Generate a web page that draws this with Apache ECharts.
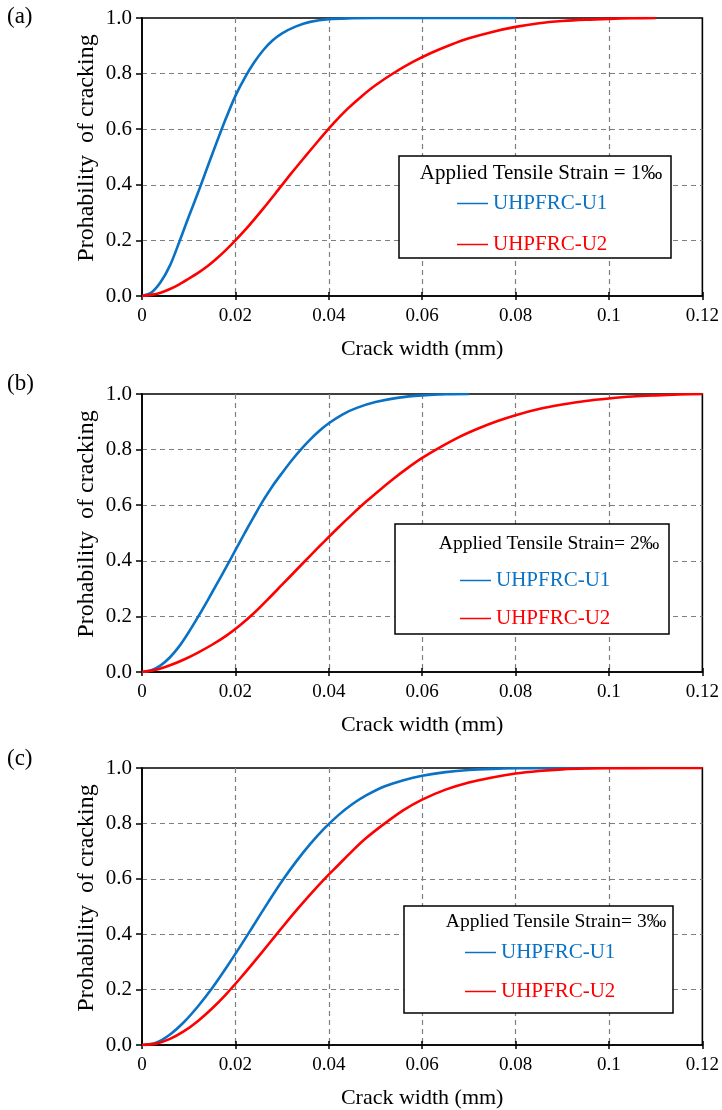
<!DOCTYPE html>
<html>
<head>
<meta charset="utf-8">
<script src="https://cdn.jsdelivr.net/npm/echarts@6/dist/echarts.min.js"></script>
<style>
  html, body { margin: 0; padding: 0; background: #ffffff; }
  #chart { width: 722px; height: 1110px; }
</style>
</head>
<body>
<div id="chart"></div>
<script>
// ---- Crack width (mm) and probability of cracking, strain = 1 permille ----
const widthA_U1 = [0, 0.002, 0.004, 0.006, 0.008, 0.010, 0.012, 0.014, 0.016, 0.018, 0.020, 0.022, 0.024, 0.026, 0.028, 0.030, 0.033, 0.036, 0.040, 0.045, 0.050, 0.060, 0.070, 0.080];
const probA_U1  = [0, 0.012, 0.05, 0.11, 0.195, 0.285, 0.372, 0.463, 0.553, 0.640, 0.720, 0.785, 0.840, 0.885, 0.920, 0.945, 0.970, 0.986, 0.996, 0.999, 1.0, 1.0, 1.0, 1.0];
const widthA_U2 = [0, 0.002, 0.004, 0.006, 0.008, 0.010, 0.012, 0.014, 0.016, 0.018, 0.020, 0.023, 0.026, 0.029, 0.032, 0.035, 0.038, 0.041, 0.044, 0.047, 0.050, 0.054, 0.058, 0.062, 0.066, 0.070, 0.075, 0.080, 0.085, 0.090, 0.095, 0.100, 0.105, 0.110];
const probA_U2  = [0, 0.004, 0.012, 0.025, 0.042, 0.062, 0.083, 0.107, 0.135, 0.166, 0.200, 0.255, 0.315, 0.378, 0.442, 0.503, 0.563, 0.621, 0.673, 0.718, 0.758, 0.803, 0.842, 0.875, 0.903, 0.927, 0.950, 0.968, 0.981, 0.989, 0.994, 0.997, 0.999, 1.0];

// ---- strain = 2 permille ----
const widthB_U1 = [0, 0.002, 0.004, 0.006, 0.008, 0.010, 0.012, 0.014, 0.016, 0.018, 0.020, 0.022, 0.024, 0.026, 0.028, 0.030, 0.032, 0.034, 0.036, 0.038, 0.040, 0.043, 0.046, 0.050, 0.055, 0.060, 0.065, 0.070];
const probB_U1  = [0, 0.006, 0.024, 0.053, 0.093, 0.143, 0.198, 0.256, 0.316, 0.376, 0.438, 0.500, 0.560, 0.618, 0.670, 0.716, 0.760, 0.800, 0.836, 0.868, 0.895, 0.927, 0.950, 0.971, 0.987, 0.995, 0.999, 1.0];
const widthB_U2 = [0, 0.003, 0.006, 0.009, 0.012, 0.015, 0.018, 0.021, 0.024, 0.027, 0.030, 0.033, 0.036, 0.039, 0.042, 0.045, 0.048, 0.051, 0.054, 0.057, 0.060, 0.064, 0.068, 0.072, 0.076, 0.080, 0.085, 0.090, 0.095, 0.100, 0.105, 0.110, 0.115, 0.120];
const probB_U2  = [0, 0.008, 0.024, 0.045, 0.070, 0.098, 0.130, 0.168, 0.212, 0.262, 0.314, 0.366, 0.418, 0.469, 0.519, 0.567, 0.613, 0.656, 0.697, 0.735, 0.770, 0.810, 0.846, 0.876, 0.902, 0.924, 0.946, 0.962, 0.975, 0.984, 0.991, 0.995, 0.998, 1.0];

// ---- strain = 3 permille ----
const widthC_U1 = [0, 0.003, 0.006, 0.009, 0.012, 0.015, 0.018, 0.021, 0.024, 0.027, 0.030, 0.033, 0.036, 0.039, 0.042, 0.045, 0.048, 0.052, 0.056, 0.060, 0.065, 0.070, 0.075, 0.080, 0.088, 0.096];
const probC_U1  = [0, 0.008, 0.038, 0.083, 0.140, 0.205, 0.278, 0.355, 0.435, 0.515, 0.592, 0.662, 0.725, 0.781, 0.829, 0.869, 0.901, 0.934, 0.956, 0.972, 0.985, 0.993, 0.997, 0.999, 1.0, 1.0];
const widthC_U2 = [0, 0.003, 0.006, 0.009, 0.012, 0.015, 0.018, 0.021, 0.024, 0.027, 0.030, 0.033, 0.036, 0.039, 0.042, 0.045, 0.048, 0.052, 0.056, 0.060, 0.065, 0.070, 0.075, 0.080, 0.085, 0.090, 0.095, 0.100, 0.110, 0.120];
const probC_U2  = [0, 0.005, 0.022, 0.050, 0.087, 0.132, 0.183, 0.240, 0.300, 0.362, 0.424, 0.485, 0.543, 0.598, 0.649, 0.700, 0.747, 0.800, 0.848, 0.886, 0.922, 0.948, 0.966, 0.980, 0.989, 0.995, 0.998, 0.999, 1.0, 1.0];

// ---- labels ----
const panelLabels  = ['(a)', '(b)', '(c)'];
const strainTitles = ['Applied Tensile Strain = 1\u2030', 'Applied Tensile Strain= 2\u2030', 'Applied Tensile Strain= 3\u2030'];
const seriesNames  = ['UHPFRC-U1', 'UHPFRC-U2'];
const xAxisTitle   = 'Crack width (mm)';
const yAxisTitle   = 'Prohability  of cracking';

const BLUE = '#0a72c4';
const RED = '#ff0000';
const FONT = "'Liberation Serif', 'Times New Roman', serif";

const zip = (xs, ys) => xs.map((x, i) => [x, ys[i]]);

const panels = [
  { top: 18,  label: { x: 7, y: 17 },  box: { x: 399, y: 156, w: 272, h: 102 }, title: { x: 541, y: 173, size: 21 }, legend: { x: 457, y: 203, gap: 40 },
    u1: zip(widthA_U1, probA_U1), u2: zip(widthA_U2, probA_U2) },
  { top: 394, label: { x: 7, y: 384 }, box: { x: 395, y: 524, w: 274, h: 110 }, title: { x: 549, y: 544, size: 19.5 }, legend: { x: 460, y: 580, gap: 37 },
    u1: zip(widthB_U1, probB_U1), u2: zip(widthB_U2, probB_U2) },
  { top: 768, label: { x: 7, y: 759 }, box: { x: 404, y: 906, w: 269, h: 107 }, title: { x: 556, y: 922, size: 19.5 }, legend: { x: 465, y: 952, gap: 38 },
    u1: zip(widthC_U1, probC_U1), u2: zip(widthC_U2, probC_U2) }
];

const grid = [], xAxis = [], yAxis = [], series = [], legend = [], graphic = [];
const GRID_LEFT = 142, GRID_W = 561, GRID_H = 278;
const dash = { color: '#7f7f7f', width: 1.2, type: [5, 4] };

panels.forEach((p, i) => {
  grid.push({ left: GRID_LEFT, top: p.top, width: GRID_W, height: GRID_H,
    show: true, borderColor: '#000', borderWidth: 1.6, backgroundColor: 'transparent' });

  // main x axis: labels, downward ticks, dashed vertical grid
  xAxis.push({
    type: 'value', gridIndex: i, position: 'bottom', min: 0, max: 0.12, interval: 0.02,
    axisLine: { show: true, onZero: false, lineStyle: { color: '#000', width: 1.6 } },
    axisTick: { show: true, inside: false, length: 4, lineStyle: { color: '#000', width: 1.5 } },
    axisLabel: { show: true, margin: 11, color: '#000', fontFamily: FONT, fontSize: 19 },
    splitLine: { show: true, showMinLine: false, showMaxLine: false, lineStyle: dash },
    name: xAxisTitle, nameLocation: 'middle', nameGap: 42,
    nameTextStyle: { color: '#000', fontFamily: FONT, fontSize: 22 }
  });
  // companion axis carrying the upward half of the crossing ticks
  xAxis.push({
    type: 'value', gridIndex: i, position: 'bottom', min: 0, max: 0.12, interval: 0.02,
    axisLine: { show: false },
    axisTick: { show: true, inside: true, length: 4, lineStyle: { color: '#000', width: 1.5 } },
    axisLabel: { show: false }, splitLine: { show: false }
  });

  yAxis.push({
    type: 'value', gridIndex: i, min: 0, max: 1, interval: 0.2,
    axisLine: { show: true, onZero: false, lineStyle: { color: '#000', width: 1.6 } },
    axisTick: { show: true, inside: false, length: 6, lineStyle: { color: '#000', width: 1.5 } },
    axisLabel: { margin: 10, color: '#000', fontFamily: FONT, fontSize: 21, formatter: v => v.toFixed(1) },
    splitLine: { show: true, showMinLine: false, showMaxLine: false, lineStyle: dash }
  });

  [[p.u1, BLUE, 0], [p.u2, RED, 1]].forEach(([data, color, k]) => {
    series.push({
      type: 'line', name: seriesNames[k], xAxisIndex: i * 2, yAxisIndex: i,
      data, showSymbol: false, symbol: 'none', smooth: 0.3,
      lineStyle: { color, width: 2.6 }, itemStyle: { color }, z: 3, animation: false
    });
  });

  legend.push({
    orient: 'vertical', left: p.legend.x, top: p.legend.y - 10, padding: 0,
    icon: 'rect', itemWidth: 31, itemHeight: 1.5, itemGap: p.legend.gap - 20, z: 20,
    selectedMode: false,
    textStyle: { fontFamily: FONT, fontSize: 21, lineHeight: 20 },
    data: [
      { name: seriesNames[0], itemStyle: { color: BLUE }, textStyle: { color: BLUE } },
      { name: seriesNames[1], itemStyle: { color: RED }, textStyle: { color: RED } }
    ]
  });

  // y-axis title, rotated to read bottom-to-top
  graphic.push({
    type: 'text', x: 87, y: p.top + 130, rotation: Math.PI / 2, z: 11,
    style: { text: yAxisTitle, align: 'center', verticalAlign: 'middle',
      font: '24px ' + FONT, fill: '#000' }
  });
  graphic.push({
    type: 'rect', z: 10,
    shape: { x: p.box.x, y: p.box.y, width: p.box.w, height: p.box.h },
    style: { fill: '#fff', stroke: '#000', lineWidth: 1.5 }
  });
  graphic.push({
    type: 'text', z: 11,
    style: { text: strainTitles[i], x: p.title.x, y: p.title.y, align: 'center', verticalAlign: 'middle',
      font: p.title.size + 'px ' + FONT, fill: '#000' }
  });
  graphic.push({
    type: 'text', z: 11,
    style: { text: panelLabels[i], x: p.label.x, y: p.label.y, align: 'left', verticalAlign: 'middle',
      font: '23px ' + FONT, fill: '#000' }
  });
});

const chart = echarts.init(document.getElementById('chart'), null, { renderer: 'canvas' });
chart.setOption({
  animation: false,
  backgroundColor: '#fff',
  grid, xAxis, yAxis, series, legend, graphic
});
</script>
</body>
</html>
